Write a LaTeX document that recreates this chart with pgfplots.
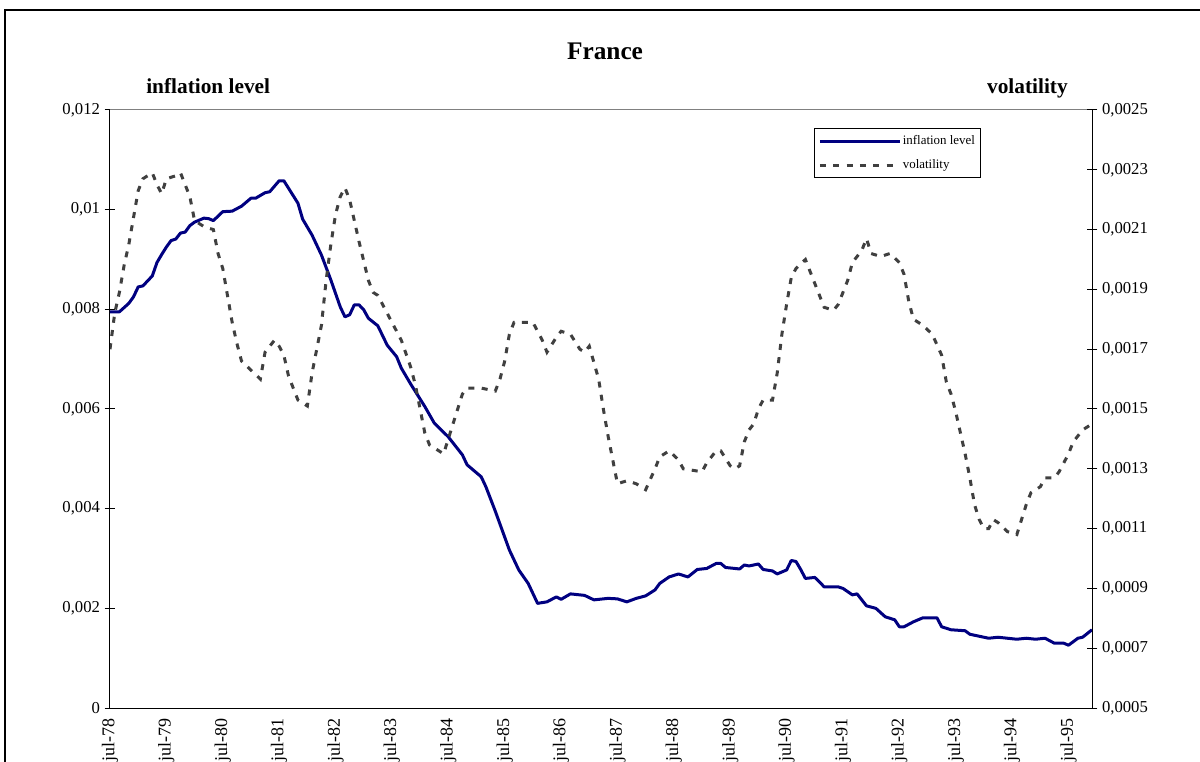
\documentclass[border=0pt]{standalone}
\usepackage{fontspec}
\setmainfont{Liberation Serif}
\usepackage{pgfplots}
\pgfplotsset{compat=1.18}
\definecolor{infl}{RGB}{0,0,128}
\definecolor{vol}{RGB}{64,64,64}
\pgfplotstableread{
m v
0 0.00795
2 0.00795
4 0.00812
5 0.00825
6 0.00845
7 0.00847
9 0.00867
10 0.00894
11 0.00910
12 0.00925
13 0.00938
14 0.00941
15 0.00953
16 0.00955
17 0.00968
18 0.00975
20 0.00983
21 0.00982
22 0.00978
24 0.00996
26 0.00997
28 0.01007
30 0.01023
31 0.01023
33 0.01034
34 0.01036
36 0.01058
37 0.01058
38 0.01043
40 0.01013
41 0.00981
43 0.00949
45 0.00909
47 0.00859
49 0.00805
50 0.00785
51 0.00789
52 0.00809
53 0.00809
54 0.00799
55 0.00782
57 0.00767
59 0.00728
61 0.00705
62 0.00682
64 0.00650
66 0.00620
67 0.00605
69 0.00572
72 0.00544
75 0.00508
76 0.00488
79 0.00464
80 0.00444
82 0.00395
85 0.00317
87 0.00277
89 0.00250
91 0.00210
93 0.00213
95 0.00223
96 0.00218
98 0.00229
101 0.00226
103 0.00217
106 0.00220
108 0.00219
110 0.00213
112 0.00220
114 0.00225
116 0.00237
117 0.00250
119 0.00263
121 0.00269
123 0.00263
125 0.00278
127 0.00280
129 0.00290
130 0.00290
131 0.00282
134 0.00279
135 0.00287
136 0.00285
138 0.00289
139 0.00278
141 0.00275
142 0.00269
144 0.00277
145 0.00296
146 0.00294
147 0.00278
148 0.00260
150 0.00262
151 0.00253
152 0.00243
155 0.00243
156 0.00240
158 0.00227
159 0.00229
161 0.00205
163 0.00200
165 0.00183
167 0.00177
168 0.00163
169 0.00163
171 0.00173
173 0.00181
176 0.00181
177 0.00163
179 0.00157
182 0.00155
183 0.00148
186 0.00142
187 0.00140
189 0.00142
191 0.00140
193 0.00138
195 0.00140
197 0.00138
199 0.00140
201 0.00130
203 0.00130
204 0.00126
206 0.00140
207 0.00142
209 0.00157
}\inflation
\pgfplotstableread{
m v
0 0.00170
1 0.00182
2 0.00189
3 0.00198
4 0.00205
5 0.00214
6 0.00223
7 0.00227
9 0.00229
10 0.00225
11 0.00222
12 0.00227
14 0.00228
15 0.00229
17 0.00221
18 0.00213
20 0.00211
22 0.00210
23 0.00202
24 0.00197
25 0.00188
26 0.00179
27 0.00172
28 0.00166
30 0.00163
32 0.00160
33 0.00169
35 0.00173
36 0.00171
37 0.00168
38 0.00161
40 0.00153
42 0.00151
43 0.00162
45 0.00178
46 0.00193
47 0.00205
48 0.00215
49 0.00221
50 0.00224
51 0.00220
53 0.00206
55 0.00193
56 0.00189
57 0.00188
60 0.00179
62 0.00173
64 0.00164
65 0.00158
66 0.00150
67 0.00142
68 0.00138
69 0.00137
71 0.00135
72 0.00140
73 0.00145
74 0.00150
75 0.00155
76 0.00157
79 0.00157
82 0.00156
83 0.00160
84 0.00166
85 0.00175
86 0.00179
90 0.00179
91 0.00176
92 0.00173
93 0.00169
95 0.00174
96 0.00176
98 0.00175
100 0.00170
101 0.00169
102 0.00171
104 0.00160
105 0.00150
106 0.00141
107 0.00133
108 0.00125
110 0.00126
112 0.00125
114 0.00123
116 0.00130
117 0.00134
119 0.00136
121 0.00133
122 0.00130
126 0.00129
127 0.00132
129 0.00136
130 0.00136
132 0.00131
133 0.00130
134 0.00131
135 0.00139
136 0.00143
137 0.00145
138 0.00150
139 0.00153
141 0.00153
142 0.00162
143 0.00175
144 0.00185
145 0.00194
146 0.00197
148 0.00200
149 0.00196
151 0.00188
152 0.00184
154 0.00183
155 0.00185
157 0.00193
158 0.00199
160 0.00203
161 0.00207
162 0.00202
164 0.00201
166 0.00202
168 0.00199
169 0.00195
170 0.00186
171 0.00180
173 0.00178
175 0.00175
177 0.00168
178 0.00159
179 0.00155
180 0.00149
181 0.00142
182 0.00135
183 0.00127
184 0.00118
185 0.00113
186 0.00110
187 0.00110
188 0.00113
189 0.00112
191 0.00109
193 0.00108
194 0.00113
195 0.00118
196 0.00122
198 0.00124
199 0.00127
201 0.00127
202 0.00129
203 0.00132
204 0.00135
205 0.00139
207 0.00143
209 0.00145
}\volatility
\begin{document}
\begin{tikzpicture}
\useasboundingbox (-82.5pt,-39.75pt) rectangle (817.5pt,531pt);
\clip (-82.5pt,-39.75pt) rectangle (817.5pt,531pt);
\draw[line width=0.9pt] (-78.75pt,-80pt) rectangle (840pt,523.5pt);
\pgfplotsset{
  every axis/.append style={
    at={(0pt,0pt)}, anchor=south west,
    scale only axis, width=736.5pt, height=448.5pt,
    xmin=0, xmax=209,
    scaled y ticks=false, scaled x ticks=false,
    tick align=center,
    major tick length=8pt,
    tick style={black, line width=0.75pt},
    axis line style={black, line width=0.75pt},
    ticklabel style={font=\fontsize{12.5}{14}\selectfont},
  }
}
\begin{axis}[
  ymin=0, ymax=0.012,
  axis x line*=bottom, axis y line*=left,
  ytick={0,0.002,0.004,0.006,0.008,0.01,0.012},
  yticklabels={{0},{0,002},{0,004},{0,006},{0,008},{0,01},{0,012}},
  xtick={0,12,24,36,48,60,72,84,96,108,120,132,144,156,168,180,192,204},
  xticklabels={jul-78,jul-79,jul-80,jul-81,jul-82,jul-83,jul-84,jul-85,jul-86,jul-87,jul-88,jul-89,jul-90,jul-91,jul-92,jul-93,jul-94,jul-95},
  x tick style={draw=none},
  xticklabel style={rotate=90, anchor=east, font=\fontsize{13.5}{15}\selectfont},
  legend style={at={(0.717,0.970)}, anchor=north west, draw=black, line width=0.6pt,
    font=\fontsize{9.7}{11}\selectfont, inner xsep=3pt, inner ysep=4pt, row sep=7pt,
    nodes={inner sep=1pt, text height=7pt, text depth=2pt}},
  legend cell align=left,
  legend image code/.code={\draw[#1] (0pt,0pt) -- (60pt,0pt);},
]
\addplot[infl, line width=2.25pt, line join=round] table[x=m,y=v]{\inflation};
\addlegendentry{inflation level}
\addlegendimage{vol, line width=2.25pt, dash pattern=on 4.5pt off 5.5pt}
\addlegendentry{volatility}
\draw[gray, line width=0.75pt] (rel axis cs:0,1) -- (rel axis cs:1,1);
\end{axis}
\begin{axis}[
  ymin=0.0005, ymax=0.0025,
  axis x line=none, axis y line*=right,
  ytick={0.0005,0.0007,0.0009,0.0011,0.0013,0.0015,0.0017,0.0019,0.0021,0.0023,0.0025},
  yticklabels={{0,0005},{0,0007},{0,0009},{0,0011},{0,0013},{0,0015},{0,0017},{0,0019},{0,0021},{0,0023},{0,0025}},
]
\addplot[vol, line width=2.25pt, dash pattern=on 4.5pt off 5.5pt] table[x=m,y=v]{\volatility};
\end{axis}
\node[font=\bfseries\fontsize{19}{22}\selectfont, anchor=base] at (371.25pt,486pt) {France};
\node[font=\bfseries\fontsize{16}{19}\selectfont, anchor=base west, inner sep=0pt] at (27pt,460.5pt) {inflation level};
\node[font=\bfseries\fontsize{16}{19}\selectfont, anchor=base east, inner sep=0pt] at (718.5pt,460.5pt) {volatility};
\end{tikzpicture}
\end{document}
